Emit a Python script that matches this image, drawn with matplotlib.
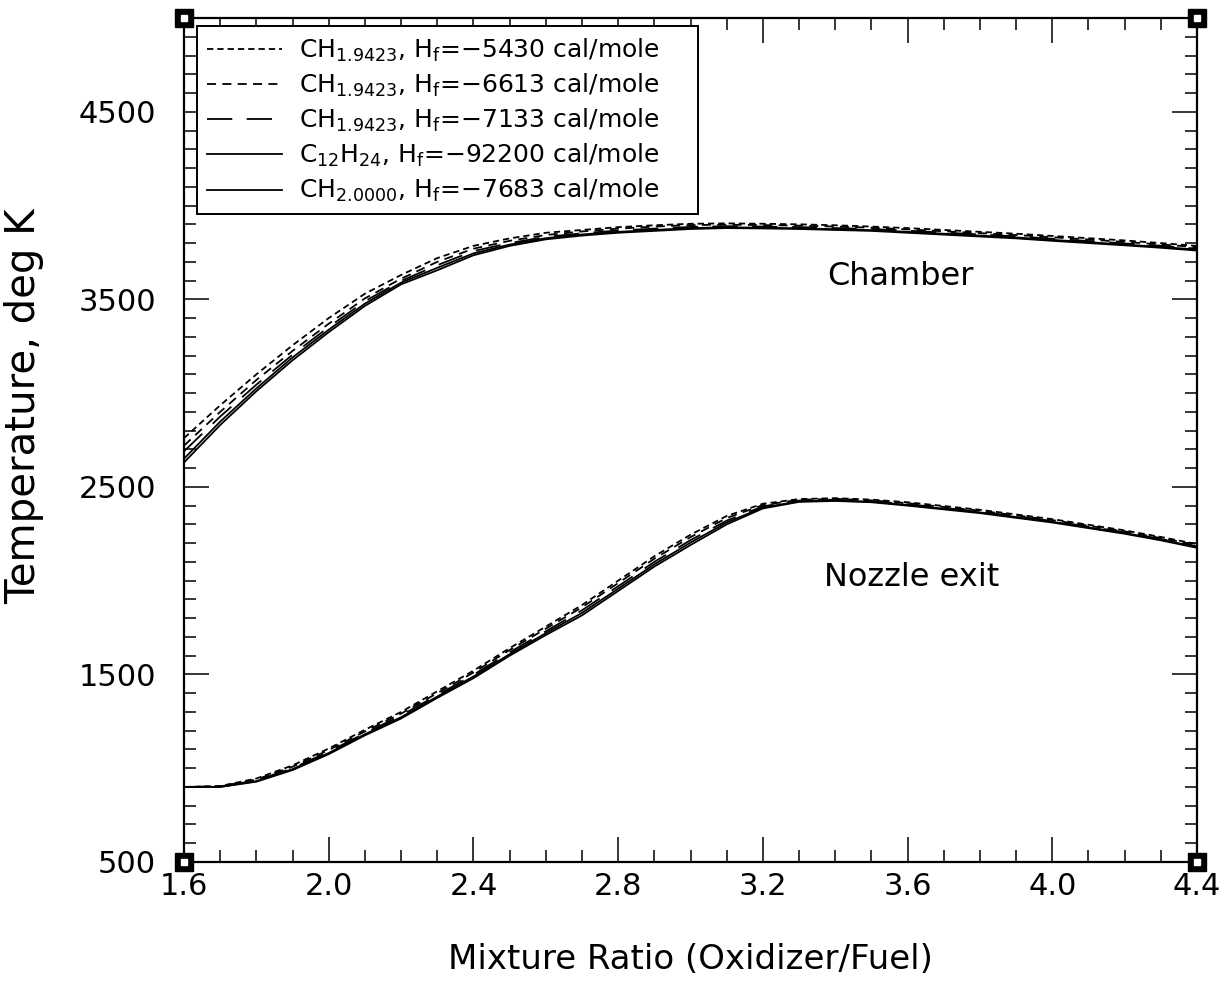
import numpy as np
import matplotlib
matplotlib.use('Agg')
import matplotlib.pyplot as plt
from matplotlib.ticker import MultipleLocator, FixedLocator

plt.rcParams['font.family'] = ['DejaVu Sans']

# mixture ratio grid
mixture_ratio = [1.6, 1.7, 1.8, 1.9, 2.0, 2.1, 2.2, 2.3, 2.4, 2.5,
                 2.6, 2.7, 2.8, 2.9, 3.0, 3.1, 3.2, 3.3, 3.4, 3.5,
                 3.6, 3.7, 3.8, 3.9, 4.0, 4.1, 4.2, 4.3, 4.4]

# chamber temperature, deg K
chamber_5430 = [2760, 2935, 3100, 3255, 3400, 3530, 3630, 3720, 3785, 3825,
                3855, 3870, 3885, 3895, 3903, 3905, 3903, 3900, 3895, 3888,
                3880, 3870, 3860, 3850, 3838, 3826, 3814, 3800, 3785]
chamber_6613 = [2720, 2900, 3070, 3225, 3370, 3505, 3610, 3700, 3770, 3812,
                3843, 3862, 3877, 3888, 3896, 3898, 3896, 3893, 3888, 3882,
                3873, 3863, 3853, 3843, 3831, 3819, 3806, 3793, 3778]
chamber_7133 = [2690, 2875, 3045, 3205, 3352, 3490, 3598, 3682, 3757, 3800,
                3833, 3852, 3867, 3877, 3886, 3890, 3888, 3885, 3880, 3875,
                3866, 3856, 3846, 3836, 3823, 3811, 3798, 3786, 3770]
chamber_c12h24 = [2630, 2830, 3010, 3175, 3325, 3465, 3580, 3655, 3735, 3785,
                  3820, 3840, 3855, 3865, 3875, 3880, 3878, 3875, 3870, 3865,
                  3855, 3845, 3835, 3825, 3812, 3800, 3788, 3775, 3760]
chamber_ch2 = [2650, 2848, 3025, 3190, 3338, 3477, 3589, 3668, 3745, 3792,
               3826, 3846, 3860, 3870, 3880, 3884, 3882, 3879, 3874, 3869,
               3860, 3850, 3840, 3830, 3817, 3805, 3792, 3780, 3765]

# nozzle exit temperature, deg K
nozzle_5430 = [900, 905, 945, 1015, 1105, 1205, 1300, 1410, 1520, 1640,
               1755, 1870, 2000, 2130, 2245, 2345, 2410, 2435, 2440, 2432,
               2418, 2398, 2378, 2353, 2328, 2298, 2268, 2233, 2195]
nozzle_6613 = [900, 903, 940, 1008, 1097, 1196, 1291, 1400, 1510, 1630,
               1744, 1858, 1987, 2117, 2232, 2334, 2403, 2431, 2436, 2428,
               2413, 2393, 2373, 2348, 2323, 2293, 2263, 2227, 2190]
nozzle_7133 = [900, 902, 935, 1000, 1088, 1187, 1281, 1390, 1498, 1618,
               1730, 1842, 1970, 2100, 2216, 2320, 2396, 2427, 2432, 2424,
               2408, 2388, 2368, 2343, 2318, 2288, 2258, 2222, 2183]
nozzle_c12h24 = [900, 900, 928, 990, 1075, 1175, 1265, 1375, 1480, 1600,
                 1710, 1815, 1945, 2075, 2190, 2300, 2385, 2420, 2425, 2418,
                 2400, 2380, 2360, 2335, 2310, 2280, 2250, 2215, 2175]
nozzle_ch2 = [900, 901, 931, 995, 1081, 1181, 1272, 1382, 1489, 1608,
              1720, 1828, 1957, 2087, 2203, 2310, 2390, 2423, 2428, 2421,
              2404, 2384, 2364, 2339, 2314, 2284, 2254, 2219, 2179]

labels = [r'CH$\mathregular{_{1.9423}}$, H$\mathregular{_f}$=−5430 cal/mole',
          r'CH$\mathregular{_{1.9423}}$, H$\mathregular{_f}$=−6613 cal/mole',
          r'CH$\mathregular{_{1.9423}}$, H$\mathregular{_f}$=−7133 cal/mole',
          r'C$\mathregular{_{12}}$H$\mathregular{_{24}}$, H$\mathregular{_f}$=−92200 cal/mole',
          r'CH$\mathregular{_{2.0000}}$, H$\mathregular{_f}$=−7683 cal/mole']

chamber = [chamber_5430, chamber_6613, chamber_7133, chamber_c12h24, chamber_ch2]
nozzle = [nozzle_5430, nozzle_6613, nozzle_7133, nozzle_c12h24, nozzle_ch2]
styles = [(0, (3.5, 2.2)), (0, (5, 3.5)), (0, (14, 8)), '-', '-']

fig = plt.figure(figsize=(12.3, 9.85), dpi=100)
ax = fig.add_axes([0.1496, 0.1249, 0.8236, 0.8568])

for ch, nz, ls, lab in zip(chamber, nozzle, styles, labels):
    ax.plot(mixture_ratio, ch, color='black', lw=1.3, linestyle=ls, label=lab)
    ax.plot(mixture_ratio, nz, color='black', lw=1.3, linestyle=ls)

ax.set_xlim(1.6, 4.4)
ax.set_ylim(500, 5000)
ax.xaxis.set_major_locator(MultipleLocator(0.4))
ax.xaxis.set_minor_locator(MultipleLocator(0.1))
ax.yaxis.set_major_locator(FixedLocator([500, 1500, 2500, 3500, 4500]))
ax.yaxis.set_minor_locator(MultipleLocator(100))
ax.xaxis.set_major_formatter(matplotlib.ticker.FormatStrFormatter('%.1f'))

ax.tick_params(which='both', direction='in', top=True, right=True, width=1.1, color='black')
ax.tick_params(which='major', length=18)
ax.tick_params(which='minor', length=8.5)
ax.tick_params(axis='x', which='major', labelsize=22, pad=7)
ax.tick_params(axis='y', which='major', labelsize=22, pad=20)
for s in ax.spines.values():
    s.set_linewidth(1.6)

ax.set_xlabel('Mixture Ratio (Oxidizer/Fuel)', fontsize=24.5)
ax.set_ylabel('Temperature, deg K', fontsize=29)
ax.xaxis.set_label_coords(0.5, -0.096)
ax.yaxis.set_label_coords(-0.138, 0.54)

ax.text(3.58, 3620, 'Chamber', fontsize=23, ha='center', va='center')
ax.text(3.61, 2015, 'Nozzle exit', fontsize=23, ha='center', va='center')

# legend box stretched to the reference width
leg = ax.legend(loc='upper left', bbox_to_anchor=(0.013, 0.5, 0.4946, 0.49), mode='expand',
                borderaxespad=0, fontsize=18, handlelength=3.0, handletextpad=0.68,
                labelspacing=0.32, fancybox=False, framealpha=1, edgecolor='black',
                borderpad=0.4)
leg.get_frame().set_linewidth(1.4)

# corner markers
for cx, cy in [(0, 0), (1, 0), (0, 1), (1, 1)]:
    ax.plot([cx], [cy], marker='s', color='black', markersize=13, transform=ax.transAxes,
            clip_on=False, zorder=5)
    ax.plot([cx], [cy], marker='s', color='white', markersize=4, transform=ax.transAxes,
            clip_on=False, zorder=6)

fig.savefig('out.png', dpi=100)
